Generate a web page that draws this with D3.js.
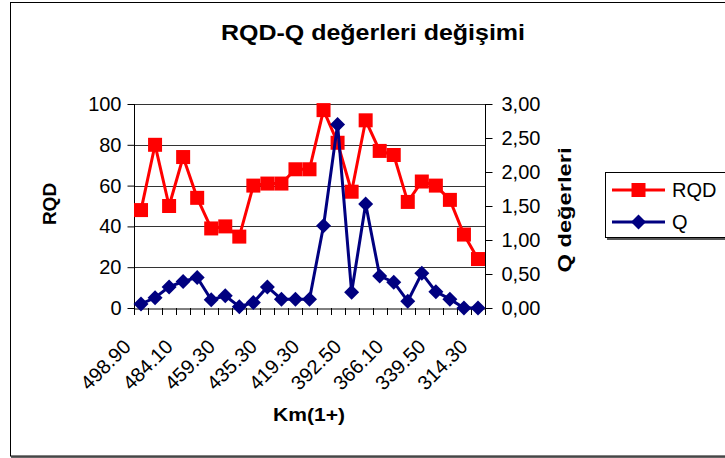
<!DOCTYPE html>
<html>
<head>
<meta charset="utf-8">
<script src="https://cdn.jsdelivr.net/npm/d3@7"></script>
<style>
  html, body { margin: 0; padding: 0; background: #fff; }
  svg { display: block; font-family: Arial, "Liberation Sans", sans-serif; }
</style>
</head>
<body>
<svg id="chart" width="725" height="458"></svg>
<script>
// ---- data ----
const categories = ["498.90","494.00","489.00","484.10","475.00","467.00","459.30","451.00","443.00",
  "435.30","430.00","424.60","419.30","410.00","401.20","392.50","383.70","374.90","366.10",
  "357.20","348.40","339.50","331.10","322.70","314.30"];
const tickLabels = ["498.90","484.10","459.30","435.30","419.30","392.50","366.10","339.50","314.30"];
const rqdValues = [48, 80, 50, 74, 54, 39, 40, 35, 60, 61, 61, 68, 68, 97, 81, 57, 92, 77, 75, 52, 62, 60, 53, 36, 24];
const qValues = [0.06, 0.15, 0.31, 0.39, 0.45, 0.12, 0.18, 0.02, 0.08, 0.31, 0.13, 0.13, 0.13, 1.21, 2.70, 0.23, 1.53, 0.47, 0.38, 0.10, 0.51, 0.24, 0.13, 0.00, 0.00];
const rqdTicks = [0, 20, 40, 60, 80, 100];
const qTicks = [0, 0.5, 1, 1.5, 2, 2.5, 3];

// ---- layout ----
const svg = d3.select("#chart");
const L = 134, R = 485, T = 104, B = 308;

// outer border
svg.append("rect").attr("x", 10.5).attr("y", 2.5).attr("width", 740).attr("height", 453.5)
  .attr("fill", "#fff").attr("stroke", "#000").attr("stroke-width", 1);
svg.append("line").attr("x1", 11).attr("x2", 725).attr("y1", 457).attr("y2", 457)
  .attr("stroke", "#333").attr("stroke-width", 1.5);

const x = d3.scaleBand().domain(categories).range([L, R]).padding(0);
const yL = d3.scaleLinear().domain([0, 100]).range([B, T]);
const yR = d3.scaleLinear().domain([0, 3]).range([B, T]);

// gridlines
svg.append("g").selectAll("line").data(rqdTicks.filter(d => d > 0)).join("line")
  .attr("x1", L).attr("x2", R)
  .attr("y1", d => Math.round(yL(d)) + 0.5).attr("y2", d => Math.round(yL(d)) + 0.5)
  .attr("stroke", "#333").attr("stroke-width", 1);

// left axis
const axL = d3.axisLeft(yL).tickValues(rqdTicks).tickSize(7).tickPadding(6).tickFormat(d3.format("d"));
const gL = svg.append("g").attr("transform", `translate(${L + 0.5},0)`).call(axL);
// right axis
const axR = d3.axisRight(yR).tickValues(qTicks).tickSize(7).tickPadding(9)
  .tickFormat(d => d.toFixed(2).replace(".", ","));
const gR = svg.append("g").attr("transform", `translate(${R + 0.5},0)`).call(axR);
// bottom axis
const axB = d3.axisBottom(x).tickSize(0).tickFormat("");
const gB = svg.append("g").attr("transform", `translate(0,${B + 0.5})`).call(axB);
[gL, gR, gB].forEach(g => {
  g.select(".domain").attr("stroke", "#000").attr("stroke-width", 1);
  g.selectAll(".tick line").attr("stroke", "#000");
  g.selectAll("text").attr("fill", "#000").style("font-size", "20px").style("font-family", "Arial, 'Liberation Sans', sans-serif");
});
gL.select(".domain").attr("d", `M-0,${T}V${B}`);
gR.select(".domain").attr("d", `M0,${T}V${B}`);
// category boundary ticks
const bounds = categories.map(c => x(c)).concat([R]);
svg.append("g").selectAll("line").data(bounds).join("line")
  .attr("x1", d => Math.round(d) + 0.5).attr("x2", d => Math.round(d) + 0.5)
  .attr("y1", B).attr("y2", B + 7).attr("stroke", "#000");

// x tick labels (rotated)
svg.append("g").selectAll("text").data(tickLabels).join("text")
  .attr("transform", d => `translate(${x(d) + x.bandwidth() / 2 - 9},${B + 40}) rotate(-45)`)
  .attr("text-anchor", "end")
  .style("font-size", "20px")
  .text(d => d);

// series
const cx = d => x(categories[d]) + x.bandwidth() / 2;
const idx = d3.range(categories.length);

const lineRQD = d3.line().x(i => cx(i)).y(i => yL(rqdValues[i]));
svg.append("path").attr("d", lineRQD(idx)).attr("fill", "none").attr("stroke", "#ff0000").attr("stroke-width", 3);
svg.append("g").selectAll("rect").data(idx).join("rect")
  .attr("x", i => cx(i) - 7).attr("y", i => yL(rqdValues[i]) - 7)
  .attr("width", 14).attr("height", 14).attr("fill", "#ff0000");

const lineQ = d3.line().x(i => cx(i)).y(i => yR(qValues[i]));
svg.append("path").attr("d", lineQ(idx)).attr("fill", "none").attr("stroke", "#000080").attr("stroke-width", 3);
const diamond = (px, py, r) => `M${px},${py - r}L${px + r},${py}L${px},${py + r}L${px - r},${py}Z`;
svg.append("g").selectAll("path").data(idx).join("path")
  .attr("d", i => diamond(cx(i), yR(qValues[i]), 7.5)).attr("fill", "#000080");

// titles
svg.append("text").attr("x", 373).attr("y", 40).attr("text-anchor", "middle")
  .style("font-size", "22px").style("font-weight", "bold")
  .attr("textLength", 304).attr("lengthAdjust", "spacingAndGlyphs")
  .text("RQD-Q değerleri değişimi");
svg.append("text").attr("x", 309).attr("y", 421).attr("text-anchor", "middle")
  .style("font-size", "19px").style("font-weight", "bold")
  .attr("textLength", 72).attr("lengthAdjust", "spacingAndGlyphs")
  .text("Km(1+)");
svg.append("text").attr("transform", "translate(56,204) rotate(-90)").attr("text-anchor", "middle")
  .style("font-size", "19px").style("font-weight", "bold")
  .text("RQD");
svg.append("text").attr("transform", "translate(571,210) rotate(-90)").attr("text-anchor", "middle")
  .style("font-size", "19px").style("font-weight", "bold")
  .attr("textLength", 125).attr("lengthAdjust", "spacingAndGlyphs")
  .text("Q değerleri");

// legend
const lg = svg.append("g");
lg.append("rect").attr("x", 607).attr("y", 174).attr("width", 140).attr("height", 66).attr("fill", "#555");
lg.append("rect").attr("x", 605.5).attr("y", 172.5).attr("width", 140).attr("height", 65)
  .attr("fill", "#fff").attr("stroke", "#000").attr("stroke-width", 1);
const legendItems = [
  { name: "RQD", color: "#ff0000", shape: "square", y: 190 },
  { name: "Q", color: "#000080", shape: "diamond", y: 222 }
];
legendItems.forEach(it => {
  lg.append("line").attr("x1", 612).attr("x2", 665).attr("y1", it.y).attr("y2", it.y)
    .attr("stroke", it.color).attr("stroke-width", 3);
  if (it.shape === "square") {
    lg.append("rect").attr("x", 638.5 - 7).attr("y", it.y - 7).attr("width", 14).attr("height", 14).attr("fill", it.color);
  } else {
    lg.append("path").attr("d", diamond(638.5, it.y, 7.5)).attr("fill", it.color);
  }
  lg.append("text").attr("x", 672).attr("y", it.y + 7).style("font-size", "20px").text(it.name);
});
</script>
</body>
</html>
